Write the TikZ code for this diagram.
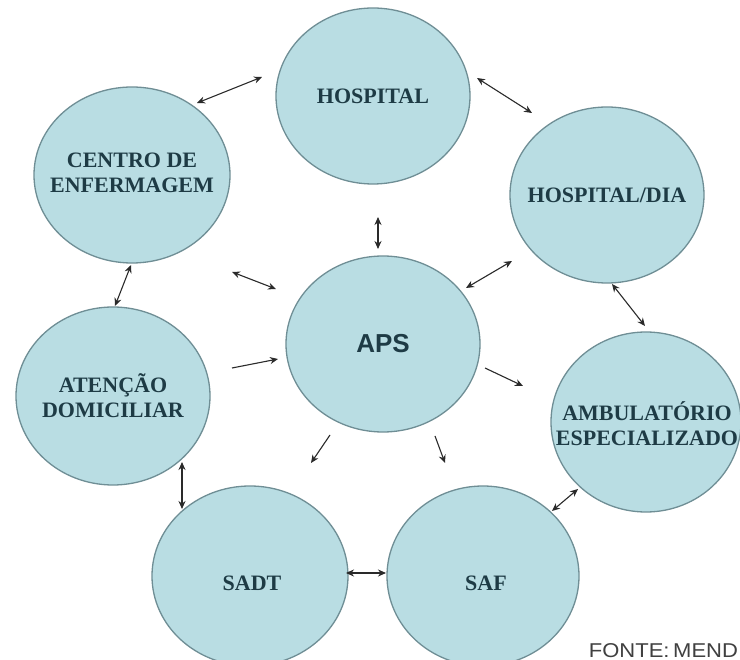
\documentclass[tikz,border=0pt]{standalone}
\usepackage{fontspec}
\setmainfont{Liberation Serif}
\newfontfamily\arialf{Liberation Sans}
\usetikzlibrary{shapes.geometric,arrows.meta}
\definecolor{cfill}{HTML}{B9DDE3}
\definecolor{cline}{HTML}{6F8E95}
\definecolor{ctext}{HTML}{1E3B45}
\definecolor{carrow}{HTML}{2A2A2A}
\tikzset{
  bubble/.style={ellipse, draw=cline, line width=1.3pt, fill=cfill, inner sep=0pt},
  lbl/.style={text=ctext, align=center, font=\fontsize{22}{25}\selectfont\bfseries},
  link/.style={draw=carrow, line width=1.1pt, {Stealth[length=8pt,width=7pt]}-{Stealth[length=8pt,width=7pt]}},
  oneway/.style={draw=carrow, line width=1.1pt, -{Stealth[length=8pt,width=7pt]}}
}
\begin{document}
\begin{tikzpicture}[x=1pt,y=-1pt]
\useasboundingbox (0,0) rectangle (740,660);
\clip (0,0) rectangle (740,660);
\fill[white] (0,0) rectangle (740,660);

\node[bubble, minimum width=194pt, minimum height=176pt] (hosp) at (373,96) {};
\node[bubble, minimum width=196pt, minimum height=176pt] (centro) at (132,175) {};
\node[bubble, minimum width=194pt, minimum height=176pt] (hdia) at (607,195) {};
\node[bubble, minimum width=194pt, minimum height=176pt] (aps) at (383,344) {};
\node[bubble, minimum width=194pt, minimum height=178pt] (aten) at (113,396) {};
\node[bubble, minimum width=190pt, minimum height=180pt] (amb) at (646,422) {};
\node[bubble, minimum width=196pt, minimum height=180pt] (sadt) at (250,576) {};
\node[bubble, minimum width=192pt, minimum height=180pt] (saf) at (483,576) {};

\node[lbl] (hosptxt) at (hosp.center) {HOSPITAL};
\node[lbl] (centrotxt) at ([yshift=2pt]centro.center) {CENTRO DE\\ENFERMAGEM};
\node[lbl] (hdiatxt) at (hdia.center) {HOSPITAL/DIA};
\node[lbl, font=\arialf\fontsize{26}{28}\selectfont\bfseries] (apstxt) at (aps.center) {APS};
\node[lbl] (atentxt) at (aten.center) {ATENÇÃO\\DOMICILIAR};
\node[lbl] (ambtxt) at (647,424) {AMBULATÓRIO\\ESPECIALIZADO};
\node[lbl] (sadttxt) at ([xshift=2pt,yshift=-7pt]sadt.center) {SADT};
\node[lbl] (saftxt) at ([xshift=3pt,yshift=-7pt]saf.center) {SAF};

\node[anchor=base west, text=black!75, xscale=1.1, font=\arialf\fontsize{20}{22}\selectfont] (fonte) at (585,657) {FONTE:\,MEND};

% connector end points
\coordinate (a1) at (197,103); \coordinate (b1) at (262,77);
\coordinate (a2) at (477,78);  \coordinate (b2) at (532,113);
\coordinate (a3) at (378,217); \coordinate (b3) at (378,249);
\coordinate (a4) at (131,265); \coordinate (b4) at (115,306);
\coordinate (a5) at (232,272); \coordinate (b5) at (276,289);
\coordinate (a6) at (466,288); \coordinate (b6) at (512,261);
\coordinate (a7) at (612,284); \coordinate (b7) at (645,326);
\coordinate (a8) at (232,368); \coordinate (b8) at (278,359);
\coordinate (a9) at (330,435); \coordinate (b9) at (311,463);
\coordinate (a10) at (435,436); \coordinate (b10) at (445,463);
\coordinate (a11) at (485,368); \coordinate (b11) at (523,386);
\coordinate (a12) at (182,462); \coordinate (b12) at (182,509);
\coordinate (a13) at (346,573); \coordinate (b13) at (386,573);
\coordinate (a14) at (578,489); \coordinate (b14) at (552,511);

\draw[link] (a1) -- (b1);
\draw[link] (a2) -- (b2);
\draw[link] (a3) -- (b3);
\draw[link] (a4) -- (b4);
\draw[link] (a5) -- (b5);
\draw[link] (a6) -- (b6);
\draw[link] (a7) -- (b7);
\draw[oneway] (a8) -- (b8);
\draw[oneway] (a9) -- (b9);
\draw[oneway] (a10) -- (b10);
\draw[oneway] (a11) -- (b11);
\draw[link] (a12) -- (b12);
\draw[link] (a13) -- (b13);
\draw[link] (a14) -- (b14);
\end{tikzpicture}
\end{document}
